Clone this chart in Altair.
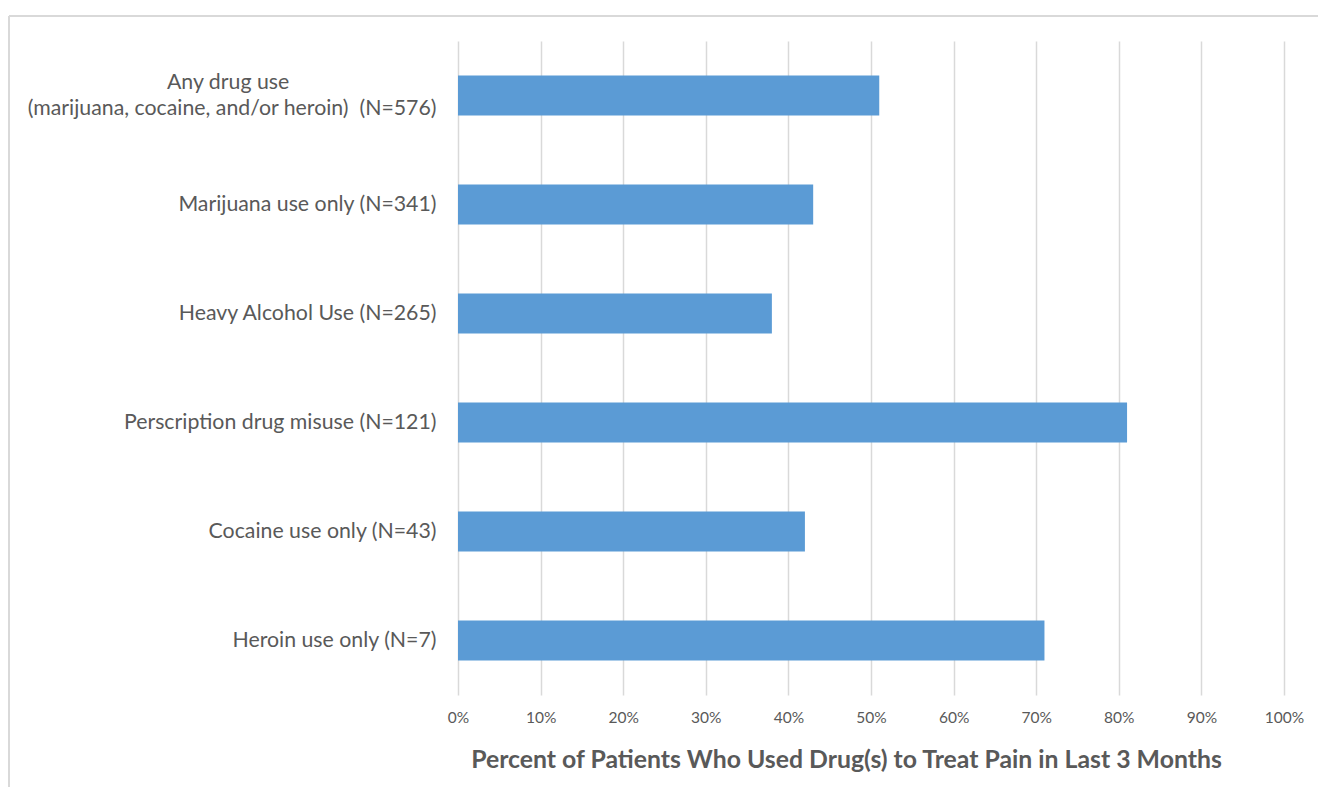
import altair as alt
import pandas as pd

NB = "\u00a0"
ZW = "\u200b"
categories = [
    ["Any drug use" + NB * 27 + ZW, "(marijuana, cocaine, and/or heroin)" + NB + " (N=576)"],
    "Marijuana use only (N=341)",
    "Heavy Alcohol Use (N=265)",
    "Perscription drug misuse (N=121)",
    "Cocaine use only (N=43)",
    "Heroin use only (N=7)",
]
keys = ["any", "mar", "alc", "presc", "coc", "her"]
values = [0.51, 0.43, 0.38, 0.81, 0.42, 0.71]
x_ticks = [0, 0.1, 0.2, 0.3, 0.4, 0.5, 0.6, 0.7, 0.8, 0.9, 1.0]

label_map = {k: c for k, c in zip(keys, categories)}
df = pd.DataFrame({"key": keys, "value": values})

label_expr = "{" + ",".join(
    f"'{k}': " + (("[" + ",".join(f"'{l}'" for l in c) + "]") if isinstance(c, list) else f"'{c}'")
    for k, c in label_map.items()
) + "}[datum.value]"

FONT = "Lato"
GREY = "#595959"

bars = alt.Chart(df).mark_bar(size=40, color="#5B9BD5").encode(
    x=alt.X(
        "value:Q",
        scale=alt.Scale(domain=[0, 1], nice=False),
        axis=alt.Axis(
            values=x_ticks,
            format=".0%",
            grid=True,
            gridColor="#d9d9d9",
            gridWidth=1.5,
            domain=False,
            ticks=False,
            labelFlush=False,
            labelFont=FONT,
            labelFontSize=15.5,
            labelColor=GREY,
            labelPadding=15,
            title="Percent of Patients Who Used Drug(s) to Treat Pain in Last 3 Months",
            titleFont=FONT,
            titleFontSize=24.8,
            titleFontWeight="bold",
            titleColor=GREY,
            titlePadding=22,
            titleX=388,
            titleAlign="center",
        ),
    ),
    y=alt.Y(
        "key:N",
        sort=keys,
        scale=alt.Scale(paddingInner=0, paddingOuter=0),
        axis=alt.Axis(
            title=None,
            domain=False,
            ticks=False,
            labelExpr=label_expr,
            labelFont=FONT,
            labelFontSize=21.3,
            labelColor=GREY,
            labelPadding=22,
            labelLineHeight=26,
            labelLimit=500,
            labelOffset={"condition": {"test": "datum.value == 'any'", "value": -13}, "value": 0},
        ),
    ),
)

border_top = alt.Chart(df).mark_rule(color="#d9d9d9", strokeWidth=2, clip=False).encode(
    x=alt.value(-449), x2=alt.value(880), y=alt.value(-25)
)
border_left = alt.Chart(df).mark_rule(color="#d9d9d9", strokeWidth=2, clip=False).encode(
    x=alt.value(-449), y=alt.value(-25), y2=alt.value(760)
)

chart = alt.layer(border_top, border_left, bars).properties(
    width=826,
    height=654,
    padding={"left": 458, "top": 41, "right": 34, "bottom": 92},
    autosize=alt.AutoSizeParams(type="none"),
).configure(background="white").configure_view(stroke=None)

chart.save("out.html", embed_options={"renderer": "svg", "actions": False})
